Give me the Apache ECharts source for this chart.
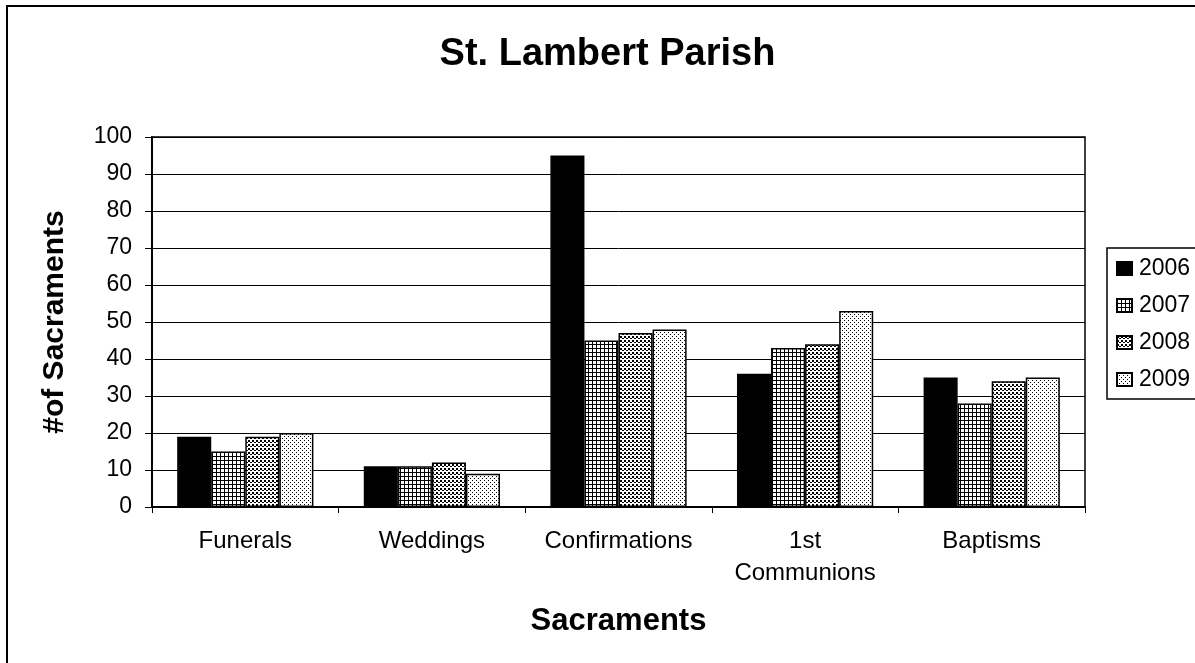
<!DOCTYPE html>
<html>
<head>
<meta charset="utf-8">
<script src="https://cdn.jsdelivr.net/npm/echarts@6/dist/echarts.min.js"></script>
<style>
html,body{margin:0;padding:0;background:#fff;}
#chart{width:1195px;height:663px;}
</style>
</head>
<body>
<div id="chart"></div>
<script>
var categories = ['Funerals', 'Weddings', 'Confirmations', '1st Communions', 'Baptisms'];
var seriesNames = ['2006', '2007', '2008', '2009'];
var values2006 = [19, 11, 95, 36, 35];
var values2007 = [15, 11, 45, 43, 28];
var values2008 = [19, 12, 47, 44, 34];
var values2009 = [20, 9, 48, 53, 35];
var yTicks = [0, 10, 20, 30, 40, 50, 60, 70, 80, 90, 100];

function makeTile(w, h, draw) {
  var c = document.createElement('canvas');
  c.width = w; c.height = h;
  var ctx = c.getContext('2d');
  ctx.fillStyle = '#fff';
  ctx.fillRect(0, 0, w, h);
  ctx.fillStyle = '#000';
  draw(ctx);
  return {image: c, repeat: 'repeat'};
}
var patGrid = makeTile(4, 4, function (ctx) {
  ctx.fillRect(0, 0, 4, 1);
  ctx.fillRect(0, 0, 1, 4);
});
var patDense = makeTile(4, 4, function (ctx) {
  ctx.fillRect(0, 0, 2, 2);
  ctx.fillRect(2, 2, 2, 1);
});
var patSparse = makeTile(4, 4, function (ctx) {
  ctx.fillRect(0, 0, 1, 1);
  ctx.fillRect(2, 2, 1, 1);
});
var fills = ['#000', patGrid, patDense, patSparse];
var allValues = [values2006, values2007, values2008, values2009];

var font = 'Liberation Sans, Arial, sans-serif';
var chart = echarts.init(document.getElementById('chart'), null, {renderer: 'canvas'});

var series = seriesNames.map(function (name, i) {
  return {
    name: name,
    type: 'bar',
    data: allValues[i],
    barGap: '0%',
    barCategoryGap: '27%',
    itemStyle: {color: fills[i], borderColor: '#000', borderWidth: 1.5},
    emphasis: {disabled: true}
  };
});

chart.setOption({
  animation: false,
  backgroundColor: '#fff',
  graphic: [{
    type: 'rect',
    shape: {x: 7, y: 6, width: 1400, height: 1000},
    style: {fill: 'none', stroke: '#000', lineWidth: 2},
    silent: true,
    z: 100
  }],
  title: {
    text: 'St. Lambert Parish',
    left: 607.5,
    top: 36,
    textAlign: 'center',
    padding: 0,
    textStyle: {fontFamily: font, fontSize: 38, fontWeight: 'bold', color: '#000'}
  },
  legend: {
    orient: 'vertical',
    left: 1107,
    top: 248,
    padding: [9, 40, 8, 9],
    itemGap: 14,
    itemWidth: 15,
    itemHeight: 13,
    icon: 'rect',
    borderColor: '#000',
    borderWidth: 1.5,
    backgroundColor: '#fff',
    data: seriesNames,
    textStyle: {fontFamily: font, fontSize: 23, color: '#000', padding: [0, 0, 0, 2]}
  },
  grid: {
    left: 152, top: 137, width: 933, height: 370,
    show: true, borderColor: '#000', borderWidth: 1.5, backgroundColor: 'transparent',
    containLabel: false
  },
  xAxis: {
    type: 'category',
    data: categories,
    name: 'Sacraments',
    nameLocation: 'middle',
    nameGap: 99,
    nameTextStyle: {fontFamily: font, fontSize: 31, fontWeight: 'bold', color: '#000'},
    axisLine: {lineStyle: {color: '#000', width: 2}},
    axisTick: {show: true, length: 6, lineStyle: {color: '#000', width: 1}},
    axisLabel: {
      interval: 0,
      margin: 18,
      fontFamily: font, fontSize: 24, color: '#000', lineHeight: 32,
      formatter: function (v) { return v.replace(' ', '\n'); }
    }
  },
  yAxis: {
    type: 'value',
    min: yTicks[0],
    max: yTicks[yTicks.length - 1],
    interval: 10,
    name: '#of Sacraments',
    nameLocation: 'middle',
    nameGap: 82,
    nameRotate: 90,
    nameTextStyle: {fontFamily: font, fontSize: 30, fontWeight: 'bold', color: '#000'},
    axisLine: {show: true, lineStyle: {color: '#000', width: 2}},
    axisTick: {show: true, length: 7, lineStyle: {color: '#000', width: 1}},
    axisLabel: {margin: 20, fontFamily: font, fontSize: 23, color: '#000'},
    splitLine: {show: true, lineStyle: {color: '#000', width: 1}}
  },
  series: series
});
</script>
</body>
</html>
